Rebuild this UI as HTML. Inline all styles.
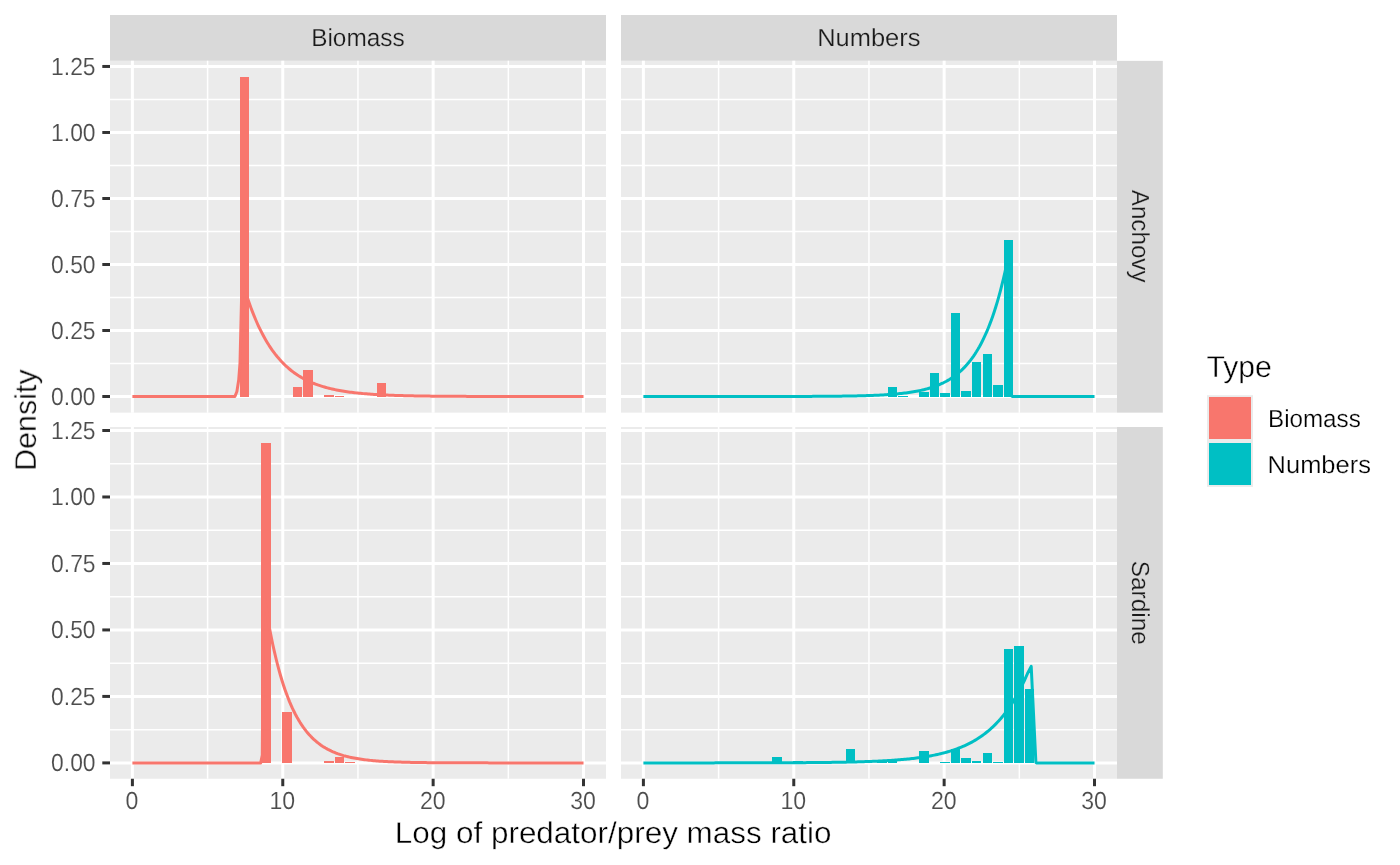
<!DOCTYPE html>
<html><head><meta charset="utf-8"><title>plot</title>
<style>html,body{margin:0;padding:0;background:#fff;width:1400px;height:865px;overflow:hidden}</style></head>
<body>
<svg width="1400" height="865" viewBox="0 0 1400 865" style="display:block;position:absolute;left:0;top:0" font-family="Liberation Sans, sans-serif">
<rect x="0" y="0" width="1400" height="865" fill="#FFFFFF"/>
<rect x="110" y="15" width="496" height="45.85" fill="#D9D9D9"/>
<rect x="621" y="15" width="496" height="45.85" fill="#D9D9D9"/>
<rect x="1117" y="60.85" width="45.8" height="351.80" fill="#D9D9D9"/>
<rect x="1117" y="427" width="45.8" height="351.75" fill="#D9D9D9"/>
<rect x="110" y="60.85" width="496" height="351.80" fill="#EBEBEB"/>
<line x1="110" x2="606" y1="363.50" y2="363.50" stroke="#FFFFFF" stroke-width="1.5"/>
<line x1="110" x2="606" y1="297.49" y2="297.49" stroke="#FFFFFF" stroke-width="1.5"/>
<line x1="110" x2="606" y1="231.48" y2="231.48" stroke="#FFFFFF" stroke-width="1.5"/>
<line x1="110" x2="606" y1="165.47" y2="165.47" stroke="#FFFFFF" stroke-width="1.5"/>
<line x1="110" x2="606" y1="99.47" y2="99.47" stroke="#FFFFFF" stroke-width="1.5"/>
<line x1="207.59" x2="207.59" y1="60.85" y2="412.65" stroke="#FFFFFF" stroke-width="1.5"/>
<line x1="357.96" x2="357.96" y1="60.85" y2="412.65" stroke="#FFFFFF" stroke-width="1.5"/>
<line x1="508.33" x2="508.33" y1="60.85" y2="412.65" stroke="#FFFFFF" stroke-width="1.5"/>
<line x1="110" x2="606" y1="396.50" y2="396.50" stroke="#FFFFFF" stroke-width="3"/>
<line x1="110" x2="606" y1="330.49" y2="330.49" stroke="#FFFFFF" stroke-width="3"/>
<line x1="110" x2="606" y1="264.49" y2="264.49" stroke="#FFFFFF" stroke-width="3"/>
<line x1="110" x2="606" y1="198.48" y2="198.48" stroke="#FFFFFF" stroke-width="3"/>
<line x1="110" x2="606" y1="132.47" y2="132.47" stroke="#FFFFFF" stroke-width="3"/>
<line x1="110" x2="606" y1="66.46" y2="66.46" stroke="#FFFFFF" stroke-width="3"/>
<line x1="132.40" x2="132.40" y1="60.85" y2="412.65" stroke="#FFFFFF" stroke-width="3"/>
<line x1="282.77" x2="282.77" y1="60.85" y2="412.65" stroke="#FFFFFF" stroke-width="3"/>
<line x1="433.14" x2="433.14" y1="60.85" y2="412.65" stroke="#FFFFFF" stroke-width="3"/>
<line x1="583.51" x2="583.51" y1="60.85" y2="412.65" stroke="#FFFFFF" stroke-width="3"/>
<rect x="621" y="60.85" width="496" height="351.80" fill="#EBEBEB"/>
<line x1="621" x2="1117" y1="363.50" y2="363.50" stroke="#FFFFFF" stroke-width="1.5"/>
<line x1="621" x2="1117" y1="297.49" y2="297.49" stroke="#FFFFFF" stroke-width="1.5"/>
<line x1="621" x2="1117" y1="231.48" y2="231.48" stroke="#FFFFFF" stroke-width="1.5"/>
<line x1="621" x2="1117" y1="165.47" y2="165.47" stroke="#FFFFFF" stroke-width="1.5"/>
<line x1="621" x2="1117" y1="99.47" y2="99.47" stroke="#FFFFFF" stroke-width="1.5"/>
<line x1="718.59" x2="718.59" y1="60.85" y2="412.65" stroke="#FFFFFF" stroke-width="1.5"/>
<line x1="868.95" x2="868.95" y1="60.85" y2="412.65" stroke="#FFFFFF" stroke-width="1.5"/>
<line x1="1019.33" x2="1019.33" y1="60.85" y2="412.65" stroke="#FFFFFF" stroke-width="1.5"/>
<line x1="621" x2="1117" y1="396.50" y2="396.50" stroke="#FFFFFF" stroke-width="3"/>
<line x1="621" x2="1117" y1="330.49" y2="330.49" stroke="#FFFFFF" stroke-width="3"/>
<line x1="621" x2="1117" y1="264.49" y2="264.49" stroke="#FFFFFF" stroke-width="3"/>
<line x1="621" x2="1117" y1="198.48" y2="198.48" stroke="#FFFFFF" stroke-width="3"/>
<line x1="621" x2="1117" y1="132.47" y2="132.47" stroke="#FFFFFF" stroke-width="3"/>
<line x1="621" x2="1117" y1="66.46" y2="66.46" stroke="#FFFFFF" stroke-width="3"/>
<line x1="643.40" x2="643.40" y1="60.85" y2="412.65" stroke="#FFFFFF" stroke-width="3"/>
<line x1="793.77" x2="793.77" y1="60.85" y2="412.65" stroke="#FFFFFF" stroke-width="3"/>
<line x1="944.14" x2="944.14" y1="60.85" y2="412.65" stroke="#FFFFFF" stroke-width="3"/>
<line x1="1094.51" x2="1094.51" y1="60.85" y2="412.65" stroke="#FFFFFF" stroke-width="3"/>
<rect x="110" y="427" width="496" height="351.75" fill="#EBEBEB"/>
<line x1="110" x2="606" y1="729.66" y2="729.66" stroke="#FFFFFF" stroke-width="1.5"/>
<line x1="110" x2="606" y1="663.18" y2="663.18" stroke="#FFFFFF" stroke-width="1.5"/>
<line x1="110" x2="606" y1="596.70" y2="596.70" stroke="#FFFFFF" stroke-width="1.5"/>
<line x1="110" x2="606" y1="530.22" y2="530.22" stroke="#FFFFFF" stroke-width="1.5"/>
<line x1="110" x2="606" y1="463.74" y2="463.74" stroke="#FFFFFF" stroke-width="1.5"/>
<line x1="207.59" x2="207.59" y1="427" y2="778.75" stroke="#FFFFFF" stroke-width="1.5"/>
<line x1="357.96" x2="357.96" y1="427" y2="778.75" stroke="#FFFFFF" stroke-width="1.5"/>
<line x1="508.33" x2="508.33" y1="427" y2="778.75" stroke="#FFFFFF" stroke-width="1.5"/>
<line x1="110" x2="606" y1="762.90" y2="762.90" stroke="#FFFFFF" stroke-width="3"/>
<line x1="110" x2="606" y1="696.42" y2="696.42" stroke="#FFFFFF" stroke-width="3"/>
<line x1="110" x2="606" y1="629.94" y2="629.94" stroke="#FFFFFF" stroke-width="3"/>
<line x1="110" x2="606" y1="563.46" y2="563.46" stroke="#FFFFFF" stroke-width="3"/>
<line x1="110" x2="606" y1="496.98" y2="496.98" stroke="#FFFFFF" stroke-width="3"/>
<line x1="110" x2="606" y1="430.50" y2="430.50" stroke="#FFFFFF" stroke-width="3"/>
<line x1="132.40" x2="132.40" y1="427" y2="778.75" stroke="#FFFFFF" stroke-width="3"/>
<line x1="282.77" x2="282.77" y1="427" y2="778.75" stroke="#FFFFFF" stroke-width="3"/>
<line x1="433.14" x2="433.14" y1="427" y2="778.75" stroke="#FFFFFF" stroke-width="3"/>
<line x1="583.51" x2="583.51" y1="427" y2="778.75" stroke="#FFFFFF" stroke-width="3"/>
<rect x="621" y="427" width="496" height="351.75" fill="#EBEBEB"/>
<line x1="621" x2="1117" y1="729.66" y2="729.66" stroke="#FFFFFF" stroke-width="1.5"/>
<line x1="621" x2="1117" y1="663.18" y2="663.18" stroke="#FFFFFF" stroke-width="1.5"/>
<line x1="621" x2="1117" y1="596.70" y2="596.70" stroke="#FFFFFF" stroke-width="1.5"/>
<line x1="621" x2="1117" y1="530.22" y2="530.22" stroke="#FFFFFF" stroke-width="1.5"/>
<line x1="621" x2="1117" y1="463.74" y2="463.74" stroke="#FFFFFF" stroke-width="1.5"/>
<line x1="718.59" x2="718.59" y1="427" y2="778.75" stroke="#FFFFFF" stroke-width="1.5"/>
<line x1="868.95" x2="868.95" y1="427" y2="778.75" stroke="#FFFFFF" stroke-width="1.5"/>
<line x1="1019.33" x2="1019.33" y1="427" y2="778.75" stroke="#FFFFFF" stroke-width="1.5"/>
<line x1="621" x2="1117" y1="762.90" y2="762.90" stroke="#FFFFFF" stroke-width="3"/>
<line x1="621" x2="1117" y1="696.42" y2="696.42" stroke="#FFFFFF" stroke-width="3"/>
<line x1="621" x2="1117" y1="629.94" y2="629.94" stroke="#FFFFFF" stroke-width="3"/>
<line x1="621" x2="1117" y1="563.46" y2="563.46" stroke="#FFFFFF" stroke-width="3"/>
<line x1="621" x2="1117" y1="496.98" y2="496.98" stroke="#FFFFFF" stroke-width="3"/>
<line x1="621" x2="1117" y1="430.50" y2="430.50" stroke="#FFFFFF" stroke-width="3"/>
<line x1="643.40" x2="643.40" y1="427" y2="778.75" stroke="#FFFFFF" stroke-width="3"/>
<line x1="793.77" x2="793.77" y1="427" y2="778.75" stroke="#FFFFFF" stroke-width="3"/>
<line x1="944.14" x2="944.14" y1="427" y2="778.75" stroke="#FFFFFF" stroke-width="3"/>
<line x1="1094.51" x2="1094.51" y1="427" y2="778.75" stroke="#FFFFFF" stroke-width="3"/>
<rect x="240" y="77" width="9" height="320" fill="#F8766D" shape-rendering="crispEdges"/>
<rect x="293" y="387" width="9" height="10" fill="#F8766D" shape-rendering="crispEdges"/>
<rect x="303" y="370" width="10" height="27" fill="#F8766D" shape-rendering="crispEdges"/>
<rect x="324" y="395" width="10" height="2" fill="#F8766D" shape-rendering="crispEdges"/>
<rect x="335" y="396" width="9" height="1" fill="#F8766D" shape-rendering="crispEdges"/>
<rect x="377" y="383" width="9" height="14" fill="#F8766D" shape-rendering="crispEdges"/>
<rect x="888" y="387" width="9" height="10" fill="#00BFC4" shape-rendering="crispEdges"/>
<rect x="898" y="396" width="10" height="1" fill="#00BFC4" shape-rendering="crispEdges"/>
<rect x="919" y="392" width="10" height="5" fill="#00BFC4" shape-rendering="crispEdges"/>
<rect x="930" y="373" width="9" height="24" fill="#00BFC4" shape-rendering="crispEdges"/>
<rect x="940" y="393" width="10" height="4" fill="#00BFC4" shape-rendering="crispEdges"/>
<rect x="951" y="313" width="9" height="84" fill="#00BFC4" shape-rendering="crispEdges"/>
<rect x="961" y="391" width="10" height="6" fill="#00BFC4" shape-rendering="crispEdges"/>
<rect x="972" y="362" width="9" height="35" fill="#00BFC4" shape-rendering="crispEdges"/>
<rect x="983" y="354" width="9" height="43" fill="#00BFC4" shape-rendering="crispEdges"/>
<rect x="993" y="385" width="10" height="12" fill="#00BFC4" shape-rendering="crispEdges"/>
<rect x="1004" y="240" width="9" height="157" fill="#00BFC4" shape-rendering="crispEdges"/>
<rect x="261" y="443" width="10" height="320" fill="#F8766D" shape-rendering="crispEdges"/>
<rect x="282" y="712" width="10" height="51" fill="#F8766D" shape-rendering="crispEdges"/>
<rect x="324" y="761" width="10" height="2" fill="#F8766D" shape-rendering="crispEdges"/>
<rect x="335" y="757" width="9" height="6" fill="#F8766D" shape-rendering="crispEdges"/>
<rect x="345" y="762" width="10" height="1" fill="#F8766D" shape-rendering="crispEdges"/>
<rect x="772" y="757" width="10" height="6" fill="#00BFC4" shape-rendering="crispEdges"/>
<rect x="793" y="761" width="10" height="2" fill="#00BFC4" shape-rendering="crispEdges"/>
<rect x="846" y="749" width="9" height="14" fill="#00BFC4" shape-rendering="crispEdges"/>
<rect x="877" y="761" width="10" height="2" fill="#00BFC4" shape-rendering="crispEdges"/>
<rect x="888" y="761" width="9" height="2" fill="#00BFC4" shape-rendering="crispEdges"/>
<rect x="919" y="751" width="10" height="12" fill="#00BFC4" shape-rendering="crispEdges"/>
<rect x="940" y="762" width="10" height="1" fill="#00BFC4" shape-rendering="crispEdges"/>
<rect x="951" y="749" width="9" height="14" fill="#00BFC4" shape-rendering="crispEdges"/>
<rect x="961" y="758" width="10" height="5" fill="#00BFC4" shape-rendering="crispEdges"/>
<rect x="972" y="761" width="9" height="2" fill="#00BFC4" shape-rendering="crispEdges"/>
<rect x="983" y="753" width="9" height="10" fill="#00BFC4" shape-rendering="crispEdges"/>
<rect x="993" y="762" width="10" height="1" fill="#00BFC4" shape-rendering="crispEdges"/>
<rect x="1004" y="649" width="9" height="114" fill="#00BFC4" shape-rendering="crispEdges"/>
<rect x="1014" y="646" width="10" height="117" fill="#00BFC4" shape-rendering="crispEdges"/>
<rect x="1025" y="689" width="9" height="74" fill="#00BFC4" shape-rendering="crispEdges"/>
<polyline points="132.40,396.50 234.90,396.50 236.90,391.50 238.70,380.00 240.00,363.00 242.00,280.01 243.50,285.21 245.00,290.18 246.50,294.93 248.00,299.46 249.50,303.80 251.00,307.94 252.50,311.89 254.00,315.67 255.50,319.28 257.00,322.73 258.50,326.03 260.00,329.17 261.50,332.18 263.00,335.05 264.50,337.80 266.00,340.42 267.50,342.92 269.00,345.32 270.50,347.60 272.00,349.79 273.50,351.87 275.00,353.87 276.50,355.77 278.00,357.59 279.50,359.33 281.00,360.99 282.50,362.57 284.00,364.09 285.50,365.54 287.00,366.92 288.50,368.24 290.00,369.50 291.50,370.71 293.00,371.86 294.50,372.96 296.00,374.01 297.50,375.02 299.00,375.98 300.50,376.89 302.00,377.77 303.50,378.60 305.00,379.40 306.50,380.17 308.00,380.90 309.50,381.59 311.00,382.26 312.50,382.90 314.00,383.50 315.50,384.08 317.00,384.64 318.50,385.17 320.00,385.67 321.50,386.16 323.00,386.62 324.50,387.06 326.00,387.48 327.50,387.88 329.00,388.27 330.50,388.64 332.00,388.99 333.50,389.32 335.00,389.64 336.50,389.95 338.00,390.24 339.50,390.52 341.00,390.79 342.50,391.04 344.00,391.29 345.50,391.52 347.00,391.74 348.50,391.96 350.00,392.16 351.50,392.35 353.00,392.54 354.50,392.71 356.00,392.88 357.50,393.05 359.00,393.20 360.50,393.35 362.00,393.49 363.50,393.62 365.00,393.75 366.50,393.87 368.00,393.99 369.50,394.10 371.00,394.21 372.50,394.31 374.00,394.41 375.50,394.50 377.00,394.59 378.50,394.68 380.00,394.76 381.50,394.84 383.00,394.91 384.50,394.98 386.00,395.05 387.50,395.11 389.00,395.18 390.50,395.24 392.00,395.29 393.50,395.35 395.00,395.40 396.50,395.45 398.00,395.49 399.50,395.54 401.00,395.58 402.50,395.62 404.00,395.66 405.50,395.70 407.00,395.74 408.50,395.77 410.00,395.80 411.50,395.83 413.00,395.86 414.50,395.89 416.00,395.92 417.50,395.94 419.00,395.97 420.50,395.99 422.00,396.02 423.50,396.04 425.00,396.06 426.50,396.08 428.00,396.10 429.50,396.11 431.00,396.13 432.50,396.15 434.00,396.16 435.50,396.18 437.00,396.19 438.50,396.21 440.00,396.22 441.50,396.23 443.00,396.24 444.50,396.26 446.00,396.27 447.50,396.28 449.00,396.29 450.50,396.30 452.00,396.31 453.50,396.31 455.00,396.32 456.50,396.33 458.00,396.34 459.50,396.35 461.00,396.35 462.50,396.36 464.00,396.37 465.50,396.37 467.00,396.38 468.50,396.38 470.00,396.39 471.50,396.39 473.00,396.40 474.50,396.40 476.00,396.41 477.50,396.41 479.00,396.41 480.50,396.42 482.00,396.42 483.50,396.43 485.00,396.43 486.50,396.43 488.00,396.44 489.50,396.44 491.00,396.44 492.50,396.44 494.00,396.45 495.50,396.45 497.00,396.45 498.50,396.45 500.00,396.45 501.50,396.46 503.00,396.46 504.50,396.46 506.00,396.46 507.50,396.46 509.00,396.47 510.50,396.47 512.00,396.47 513.50,396.47 515.00,396.47 516.50,396.47 518.00,396.47 519.50,396.48 521.00,396.48 522.50,396.48 524.00,396.48 525.50,396.48 527.00,396.48 528.50,396.48 530.00,396.48 531.50,396.48 533.00,396.48 534.50,396.48 536.00,396.48 537.50,396.49 539.00,396.49 540.50,396.49 542.00,396.49 543.50,396.49 545.00,396.49 546.50,396.49 548.00,396.49 549.50,396.49 551.00,396.49 552.50,396.49 554.00,396.49 555.50,396.49 557.00,396.49 558.50,396.49 560.00,396.49 561.50,396.49 563.00,396.49 564.50,396.49 566.00,396.49 567.50,396.49 569.00,396.49 570.50,396.49 572.00,396.49 573.50,396.50 575.00,396.50 576.50,396.50 578.00,396.50 579.50,396.50 581.00,396.50 582.50,396.50 583.51,396.50" fill="none" stroke="#F8766D" stroke-width="3" stroke-linejoin="round" stroke-linecap="butt"/>
<polyline points="643.40,396.50 644.90,396.50 646.40,396.50 647.90,396.50 649.40,396.50 650.90,396.50 652.40,396.50 653.90,396.50 655.40,396.50 656.90,396.50 658.40,396.50 659.90,396.50 661.40,396.50 662.90,396.50 664.40,396.50 665.90,396.50 667.40,396.50 668.90,396.50 670.40,396.50 671.90,396.50 673.40,396.50 674.90,396.50 676.40,396.50 677.90,396.50 679.40,396.50 680.90,396.50 682.40,396.50 683.90,396.50 685.40,396.50 686.90,396.50 688.40,396.50 689.90,396.50 691.40,396.50 692.90,396.50 694.40,396.50 695.90,396.50 697.40,396.50 698.90,396.50 700.40,396.50 701.90,396.50 703.40,396.50 704.90,396.50 706.40,396.50 707.90,396.50 709.40,396.50 710.90,396.50 712.40,396.50 713.90,396.50 715.40,396.50 716.90,396.50 718.40,396.50 719.90,396.50 721.40,396.50 722.90,396.49 724.40,396.49 725.90,396.49 727.40,396.49 728.90,396.49 730.40,396.49 731.90,396.49 733.40,396.49 734.90,396.49 736.40,396.49 737.90,396.49 739.40,396.49 740.90,396.49 742.40,396.49 743.90,396.49 745.40,396.49 746.90,396.49 748.40,396.49 749.90,396.49 751.40,396.49 752.90,396.49 754.40,396.48 755.90,396.48 757.40,396.48 758.90,396.48 760.40,396.48 761.90,396.48 763.40,396.48 764.90,396.48 766.40,396.48 767.90,396.47 769.40,396.47 770.90,396.47 772.40,396.47 773.90,396.47 775.40,396.47 776.90,396.46 778.40,396.46 779.90,396.46 781.40,396.46 782.90,396.46 784.40,396.45 785.90,396.45 787.40,396.45 788.90,396.45 790.40,396.44 791.90,396.44 793.40,396.44 794.90,396.43 796.40,396.43 797.90,396.42 799.40,396.42 800.90,396.42 802.40,396.41 803.90,396.41 805.40,396.40 806.90,396.40 808.40,396.39 809.90,396.38 811.40,396.38 812.90,396.37 814.40,396.36 815.90,396.36 817.40,396.35 818.90,396.34 820.40,396.33 821.90,396.32 823.40,396.31 824.90,396.30 826.40,396.29 827.90,396.28 829.40,396.27 830.90,396.26 832.40,396.24 833.90,396.23 835.40,396.21 836.90,396.20 838.40,396.18 839.90,396.16 841.40,396.14 842.90,396.12 844.40,396.10 845.90,396.08 847.40,396.06 848.90,396.03 850.40,396.01 851.90,395.98 853.40,395.95 854.90,395.92 856.40,395.89 857.90,395.86 859.40,395.82 860.90,395.78 862.40,395.74 863.90,395.70 865.40,395.66 866.90,395.61 868.40,395.56 869.90,395.51 871.40,395.46 872.90,395.40 874.40,395.34 875.90,395.27 877.40,395.21 878.90,395.14 880.40,395.06 881.90,394.98 883.40,394.90 884.90,394.81 886.40,394.72 887.90,394.62 889.40,394.51 890.90,394.40 892.40,394.29 893.90,394.17 895.40,394.04 896.90,393.90 898.40,393.76 899.90,393.61 901.40,393.45 902.90,393.28 904.40,393.10 905.90,392.91 907.40,392.71 908.90,392.51 910.40,392.29 911.90,392.05 913.40,391.81 914.90,391.55 916.40,391.28 917.90,390.99 919.40,390.68 920.90,390.36 922.40,390.02 923.90,389.67 925.40,389.29 926.90,388.89 928.40,388.47 929.90,388.03 931.40,387.56 932.90,387.07 934.40,386.55 935.90,386.00 937.40,385.42 938.90,384.81 940.40,384.16 941.90,383.48 943.40,382.77 944.90,382.01 946.40,381.21 947.90,380.36 949.40,379.47 950.90,378.53 952.40,377.54 953.90,376.50 955.40,375.39 956.90,374.23 958.40,373.00 959.90,371.71 961.40,370.34 962.90,368.89 964.40,367.37 965.90,365.76 967.40,364.07 968.90,362.28 970.40,360.39 971.90,358.40 973.40,356.30 974.90,354.08 976.40,351.74 977.90,349.27 979.40,346.66 980.90,343.91 982.40,341.01 983.90,337.95 985.40,334.72 986.90,331.31 988.40,327.72 989.90,323.92 991.40,319.92 992.90,315.70 994.40,311.24 995.90,306.53 997.40,301.57 998.90,296.33 1000.40,290.81 1001.90,284.98 1003.40,278.82 1004.90,272.33 1006.40,265.48 1007.90,258.25 1011.60,395.97 1012.20,396.50 1094.51,396.50" fill="none" stroke="#00BFC4" stroke-width="3" stroke-linejoin="round" stroke-linecap="butt"/>
<polyline points="132.40,762.90 260.70,762.90 262.30,754.92 263.40,592.71 264.00,595.48 265.50,605.08 267.00,614.13 268.50,622.67 270.00,630.71 271.50,638.29 273.00,645.44 274.50,652.18 276.00,658.53 277.50,664.51 279.00,670.16 280.50,675.48 282.00,680.49 283.50,685.22 285.00,689.67 286.50,693.87 288.00,697.83 289.50,701.57 291.00,705.08 292.50,708.40 294.00,711.53 295.50,714.47 297.00,717.25 298.50,719.87 300.00,722.34 301.50,724.66 303.00,726.86 304.50,728.92 306.00,730.87 307.50,732.71 309.00,734.44 310.50,736.07 312.00,737.61 313.50,739.06 315.00,740.43 316.50,741.72 318.00,742.93 319.50,744.08 321.00,745.16 322.50,746.18 324.00,747.14 325.50,748.04 327.00,748.89 328.50,749.70 330.00,750.45 331.50,751.17 333.00,751.84 334.50,752.47 336.00,753.07 337.50,753.64 339.00,754.17 340.50,754.67 342.00,755.14 343.50,755.59 345.00,756.00 346.50,756.40 348.00,756.77 349.50,757.12 351.00,757.46 352.50,757.77 354.00,758.06 355.50,758.34 357.00,758.60 358.50,758.85 360.00,759.08 361.50,759.30 363.00,759.51 364.50,759.70 366.00,759.88 367.50,760.06 369.00,760.22 370.50,760.37 372.00,760.52 373.50,760.66 375.00,760.78 376.50,760.91 378.00,761.02 379.50,761.13 381.00,761.23 382.50,761.33 384.00,761.42 385.50,761.50 387.00,761.58 388.50,761.66 390.00,761.73 391.50,761.80 393.00,761.86 394.50,761.92 396.00,761.97 397.50,762.03 399.00,762.08 400.50,762.12 402.00,762.17 403.50,762.21 405.00,762.25 406.50,762.29 408.00,762.32 409.50,762.36 411.00,762.39 412.50,762.42 414.00,762.44 415.50,762.47 417.00,762.50 418.50,762.52 420.00,762.54 421.50,762.56 423.00,762.58 424.50,762.60 426.00,762.62 427.50,762.63 429.00,762.65 430.50,762.66 432.00,762.68 433.50,762.69 435.00,762.70 436.50,762.71 438.00,762.72 439.50,762.73 441.00,762.74 442.50,762.75 444.00,762.76 445.50,762.77 447.00,762.78 448.50,762.78 450.00,762.79 451.50,762.80 453.00,762.80 454.50,762.81 456.00,762.81 457.50,762.82 459.00,762.82 460.50,762.83 462.00,762.83 463.50,762.84 465.00,762.84 466.50,762.84 468.00,762.85 469.50,762.85 471.00,762.85 472.50,762.85 474.00,762.86 475.50,762.86 477.00,762.86 478.50,762.86 480.00,762.87 481.50,762.87 483.00,762.87 484.50,762.87 486.00,762.87 487.50,762.87 489.00,762.88 490.50,762.88 492.00,762.88 493.50,762.88 495.00,762.88 496.50,762.88 498.00,762.88 499.50,762.88 501.00,762.89 502.50,762.89 504.00,762.89 505.50,762.89 507.00,762.89 508.50,762.89 510.00,762.89 511.50,762.89 513.00,762.89 514.50,762.89 516.00,762.89 517.50,762.89 519.00,762.89 520.50,762.89 522.00,762.89 523.50,762.89 525.00,762.89 526.50,762.89 528.00,762.89 529.50,762.90 531.00,762.90 532.50,762.90 534.00,762.90 535.50,762.90 537.00,762.90 538.50,762.90 540.00,762.90 541.50,762.90 543.00,762.90 544.50,762.90 546.00,762.90 547.50,762.90 549.00,762.90 550.50,762.90 552.00,762.90 553.50,762.90 555.00,762.90 556.50,762.90 558.00,762.90 559.50,762.90 561.00,762.90 562.50,762.90 564.00,762.90 565.50,762.90 567.00,762.90 568.50,762.90 570.00,762.90 571.50,762.90 573.00,762.90 574.50,762.90 576.00,762.90 577.50,762.90 579.00,762.90 580.50,762.90 582.00,762.90 583.50,762.90 583.51,762.90" fill="none" stroke="#F8766D" stroke-width="3" stroke-linejoin="round" stroke-linecap="butt"/>
<polyline points="643.40,762.90 644.90,762.90 646.40,762.90 647.90,762.90 649.40,762.90 650.90,762.90 652.40,762.90 653.90,762.89 655.40,762.89 656.90,762.89 658.40,762.89 659.90,762.89 661.40,762.89 662.90,762.89 664.40,762.89 665.90,762.89 667.40,762.89 668.90,762.89 670.40,762.89 671.90,762.89 673.40,762.89 674.90,762.89 676.40,762.89 677.90,762.89 679.40,762.89 680.90,762.89 682.40,762.89 683.90,762.89 685.40,762.89 686.90,762.89 688.40,762.89 689.90,762.89 691.40,762.89 692.90,762.89 694.40,762.89 695.90,762.88 697.40,762.88 698.90,762.88 700.40,762.88 701.90,762.88 703.40,762.88 704.90,762.88 706.40,762.88 707.90,762.88 709.40,762.88 710.90,762.88 712.40,762.88 713.90,762.88 715.40,762.87 716.90,762.87 718.40,762.87 719.90,762.87 721.40,762.87 722.90,762.87 724.40,762.87 725.90,762.87 727.40,762.87 728.90,762.86 730.40,762.86 731.90,762.86 733.40,762.86 734.90,762.86 736.40,762.86 737.90,762.85 739.40,762.85 740.90,762.85 742.40,762.85 743.90,762.85 745.40,762.84 746.90,762.84 748.40,762.84 749.90,762.84 751.40,762.84 752.90,762.83 754.40,762.83 755.90,762.83 757.40,762.82 758.90,762.82 760.40,762.82 761.90,762.82 763.40,762.81 764.90,762.81 766.40,762.80 767.90,762.80 769.40,762.80 770.90,762.79 772.40,762.79 773.90,762.78 775.40,762.78 776.90,762.77 778.40,762.77 779.90,762.76 781.40,762.76 782.90,762.75 784.40,762.75 785.90,762.74 787.40,762.73 788.90,762.73 790.40,762.72 791.90,762.71 793.40,762.71 794.90,762.70 796.40,762.69 797.90,762.68 799.40,762.67 800.90,762.66 802.40,762.65 803.90,762.64 805.40,762.63 806.90,762.62 808.40,762.61 809.90,762.60 811.40,762.59 812.90,762.58 814.40,762.56 815.90,762.55 817.40,762.54 818.90,762.52 820.40,762.51 821.90,762.49 823.40,762.47 824.90,762.46 826.40,762.44 827.90,762.42 829.40,762.40 830.90,762.38 832.40,762.36 833.90,762.34 835.40,762.32 836.90,762.29 838.40,762.27 839.90,762.24 841.40,762.22 842.90,762.19 844.40,762.16 845.90,762.13 847.40,762.10 848.90,762.07 850.40,762.04 851.90,762.00 853.40,761.97 854.90,761.93 856.40,761.89 857.90,761.85 859.40,761.81 860.90,761.76 862.40,761.72 863.90,761.67 865.40,761.62 866.90,761.57 868.40,761.52 869.90,761.46 871.40,761.40 872.90,761.34 874.40,761.28 875.90,761.22 877.40,761.15 878.90,761.08 880.40,761.01 881.90,760.93 883.40,760.85 884.90,760.77 886.40,760.68 887.90,760.59 889.40,760.50 890.90,760.41 892.40,760.31 893.90,760.20 895.40,760.09 896.90,759.98 898.40,759.86 899.90,759.74 901.40,759.62 902.90,759.48 904.40,759.35 905.90,759.20 907.40,759.06 908.90,758.90 910.40,758.74 911.90,758.58 913.40,758.40 914.90,758.22 916.40,758.03 917.90,757.84 919.40,757.64 920.90,757.43 922.40,757.21 923.90,756.98 925.40,756.74 926.90,756.49 928.40,756.24 929.90,755.97 931.40,755.69 932.90,755.40 934.40,755.10 935.90,754.79 937.40,754.47 938.90,754.13 940.40,753.78 941.90,753.41 943.40,753.03 944.90,752.63 946.40,752.22 947.90,751.79 949.40,751.35 950.90,750.89 952.40,750.41 953.90,749.90 955.40,749.38 956.90,748.84 958.40,748.28 959.90,747.69 961.40,747.08 962.90,746.45 964.40,745.79 965.90,745.10 967.40,744.39 968.90,743.65 970.40,742.88 971.90,742.07 973.40,741.24 974.90,740.37 976.40,739.47 977.90,738.53 979.40,737.55 980.90,736.54 982.40,735.48 983.90,734.38 985.40,733.24 986.90,732.05 988.40,730.81 989.90,729.52 991.40,728.19 992.90,726.80 994.40,725.35 995.90,723.84 997.40,722.28 998.90,720.65 1000.40,718.96 1001.90,717.19 1003.40,715.36 1004.90,713.46 1006.40,711.47 1007.90,709.41 1009.40,707.27 1010.90,705.04 1012.40,702.72 1013.90,700.31 1015.40,697.80 1016.90,695.19 1018.40,692.48 1019.90,689.65 1021.40,686.72 1022.90,683.66 1024.40,680.49 1025.90,677.19 1027.40,673.75 1031.20,666.40 1035.90,762.50 1036.60,762.90 1094.51,762.90" fill="none" stroke="#00BFC4" stroke-width="3" stroke-linejoin="round" stroke-linecap="butt"/>
<line x1="102.3" x2="110" y1="396.50" y2="396.50" stroke="#333333" stroke-width="3"/>
<line x1="102.3" x2="110" y1="330.49" y2="330.49" stroke="#333333" stroke-width="3"/>
<line x1="102.3" x2="110" y1="264.49" y2="264.49" stroke="#333333" stroke-width="3"/>
<line x1="102.3" x2="110" y1="198.48" y2="198.48" stroke="#333333" stroke-width="3"/>
<line x1="102.3" x2="110" y1="132.47" y2="132.47" stroke="#333333" stroke-width="3"/>
<line x1="102.3" x2="110" y1="66.46" y2="66.46" stroke="#333333" stroke-width="3"/>
<line x1="102.3" x2="110" y1="762.90" y2="762.90" stroke="#333333" stroke-width="3"/>
<line x1="102.3" x2="110" y1="696.42" y2="696.42" stroke="#333333" stroke-width="3"/>
<line x1="102.3" x2="110" y1="629.94" y2="629.94" stroke="#333333" stroke-width="3"/>
<line x1="102.3" x2="110" y1="563.46" y2="563.46" stroke="#333333" stroke-width="3"/>
<line x1="102.3" x2="110" y1="496.98" y2="496.98" stroke="#333333" stroke-width="3"/>
<line x1="102.3" x2="110" y1="430.50" y2="430.50" stroke="#333333" stroke-width="3"/>
<line x1="132.40" x2="132.40" y1="778.75" y2="786.2" stroke="#333333" stroke-width="3"/>
<line x1="282.77" x2="282.77" y1="778.75" y2="786.2" stroke="#333333" stroke-width="3"/>
<line x1="433.14" x2="433.14" y1="778.75" y2="786.2" stroke="#333333" stroke-width="3"/>
<line x1="583.51" x2="583.51" y1="778.75" y2="786.2" stroke="#333333" stroke-width="3"/>
<line x1="643.40" x2="643.40" y1="778.75" y2="786.2" stroke="#333333" stroke-width="3"/>
<line x1="793.77" x2="793.77" y1="778.75" y2="786.2" stroke="#333333" stroke-width="3"/>
<line x1="944.14" x2="944.14" y1="778.75" y2="786.2" stroke="#333333" stroke-width="3"/>
<line x1="1094.51" x2="1094.51" y1="778.75" y2="786.2" stroke="#333333" stroke-width="3"/>
<rect x="1207" y="395.2" width="46" height="91.7" fill="#EBEBEB"/>
<rect x="1209" y="397" width="42" height="42" fill="#F8766D"/>
<rect x="1209" y="443" width="42" height="42" fill="#00BFC4"/>
<g style="opacity:0.999" text-rendering="geometricPrecision">
<text transform="translate(95.6,404.8) scale(0.926,1)" font-size="24.7" fill="#4D4D4D" stroke="#FFFFFF" stroke-width="0.15" text-anchor="end">0.00</text>
<text transform="translate(95.6,338.79) scale(0.926,1)" font-size="24.7" fill="#4D4D4D" stroke="#FFFFFF" stroke-width="0.15" text-anchor="end">0.25</text>
<text transform="translate(95.6,272.79) scale(0.926,1)" font-size="24.7" fill="#4D4D4D" stroke="#FFFFFF" stroke-width="0.15" text-anchor="end">0.50</text>
<text transform="translate(95.6,206.78) scale(0.926,1)" font-size="24.7" fill="#4D4D4D" stroke="#FFFFFF" stroke-width="0.15" text-anchor="end">0.75</text>
<text transform="translate(95.6,140.77) scale(0.926,1)" font-size="24.7" fill="#4D4D4D" stroke="#FFFFFF" stroke-width="0.15" text-anchor="end">1.00</text>
<text transform="translate(95.6,74.76) scale(0.926,1)" font-size="24.7" fill="#4D4D4D" stroke="#FFFFFF" stroke-width="0.15" text-anchor="end">1.25</text>
<text transform="translate(95.6,771.2) scale(0.926,1)" font-size="24.7" fill="#4D4D4D" stroke="#FFFFFF" stroke-width="0.15" text-anchor="end">0.00</text>
<text transform="translate(95.6,704.72) scale(0.926,1)" font-size="24.7" fill="#4D4D4D" stroke="#FFFFFF" stroke-width="0.15" text-anchor="end">0.25</text>
<text transform="translate(95.6,638.24) scale(0.926,1)" font-size="24.7" fill="#4D4D4D" stroke="#FFFFFF" stroke-width="0.15" text-anchor="end">0.50</text>
<text transform="translate(95.6,571.76) scale(0.926,1)" font-size="24.7" fill="#4D4D4D" stroke="#FFFFFF" stroke-width="0.15" text-anchor="end">0.75</text>
<text transform="translate(95.6,505.28) scale(0.926,1)" font-size="24.7" fill="#4D4D4D" stroke="#FFFFFF" stroke-width="0.15" text-anchor="end">1.00</text>
<text transform="translate(95.6,438.8) scale(0.926,1)" font-size="24.7" fill="#4D4D4D" stroke="#FFFFFF" stroke-width="0.15" text-anchor="end">1.25</text>
<text transform="translate(132.0,808.8) scale(0.936,1)" font-size="24.7" fill="#4D4D4D" stroke="#FFFFFF" stroke-width="0.15" text-anchor="middle">0</text>
<text transform="translate(282.37,808.8) scale(0.936,1)" font-size="24.7" fill="#4D4D4D" stroke="#FFFFFF" stroke-width="0.15" text-anchor="middle">10</text>
<text transform="translate(432.74,808.8) scale(0.936,1)" font-size="24.7" fill="#4D4D4D" stroke="#FFFFFF" stroke-width="0.15" text-anchor="middle">20</text>
<text transform="translate(583.11,808.8) scale(0.936,1)" font-size="24.7" fill="#4D4D4D" stroke="#FFFFFF" stroke-width="0.15" text-anchor="middle">30</text>
<text transform="translate(643.0,808.8) scale(0.936,1)" font-size="24.7" fill="#4D4D4D" stroke="#FFFFFF" stroke-width="0.15" text-anchor="middle">0</text>
<text transform="translate(793.37,808.8) scale(0.936,1)" font-size="24.7" fill="#4D4D4D" stroke="#FFFFFF" stroke-width="0.15" text-anchor="middle">10</text>
<text transform="translate(943.74,808.8) scale(0.936,1)" font-size="24.7" fill="#4D4D4D" stroke="#FFFFFF" stroke-width="0.15" text-anchor="middle">20</text>
<text transform="translate(1094.11,808.8) scale(0.936,1)" font-size="24.7" fill="#4D4D4D" stroke="#FFFFFF" stroke-width="0.15" text-anchor="middle">30</text>
<text transform="translate(357.9,45.5) scale(0.987,1)" font-size="24.7" fill="#1A1A1A" stroke="#D9D9D9" stroke-width="0.25" text-anchor="middle">Biomass</text>
<text transform="translate(868.85,45.5) scale(1.031,1)" font-size="24.7" fill="#1A1A1A" stroke="#D9D9D9" stroke-width="0.25" text-anchor="middle">Numbers</text>
<text transform="translate(1132.3,236.15) rotate(90) scale(0.98,1)" font-size="24.7" fill="#1A1A1A" stroke="#D9D9D9" stroke-width="0.25" text-anchor="middle">Anchovy</text>
<text transform="translate(1132.0,602.8) rotate(90) scale(0.988,1)" font-size="24.7" fill="#1A1A1A" stroke="#D9D9D9" stroke-width="0.25" text-anchor="middle">Sardine</text>
<text transform="translate(613.2,843) scale(1.041,1)" font-size="30.2" fill="#000" stroke="#FFFFFF" stroke-width="0.4" text-anchor="middle">Log of predator/prey mass ratio</text>
<text transform="translate(35.9,420.15) rotate(-90) scale(1.012,1)" font-size="30.2" fill="#000" stroke="#FFFFFF" stroke-width="0.4" text-anchor="middle">Density</text>
<text transform="translate(1206.5,377.2) scale(0.997,1)" font-size="30.2" fill="#000" stroke="#FFFFFF" stroke-width="0.4" text-anchor="start">Type</text>
<text transform="translate(1268.0,426.7) scale(0.98,1)" font-size="24.7" fill="#000" stroke="#FFFFFF" stroke-width="0.25" text-anchor="start">Biomass</text>
<text transform="translate(1267.6,472.5) scale(1.031,1)" font-size="24.7" fill="#000" stroke="#FFFFFF" stroke-width="0.25" text-anchor="start">Numbers</text>
</g>
</svg>
</body></html>
